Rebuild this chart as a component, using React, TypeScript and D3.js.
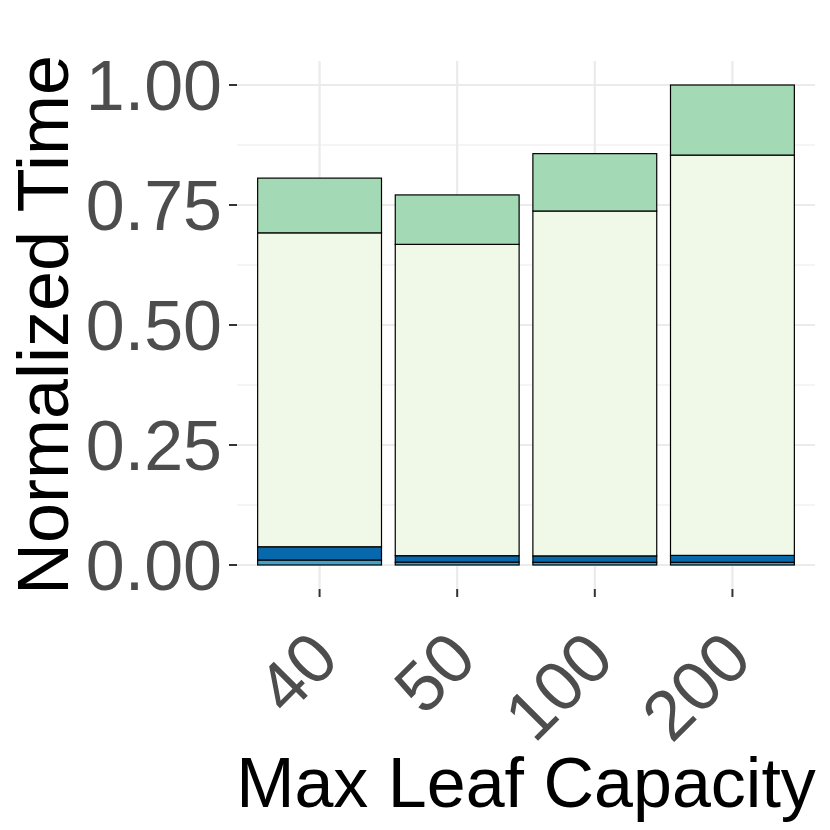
import React from "react";
import * as d3 from "d3";

const categories = ["40", "50", "100", "200"];
const seriesKeys = ["s1", "s2", "s3", "s4"];
const s1 = [0.0104, 0.006, 0.0056, 0.0056];
const s2 = [0.0276, 0.0134, 0.0134, 0.0144];
const s3 = [0.654, 0.6486, 0.7185, 0.834];
const s4 = [0.114, 0.103, 0.1195, 0.146];
const colors = ["#43a2ca", "#0868ac", "#f0f9e8", "#a3d9b4"];
const yTicks = [0, 0.25, 0.5, 0.75, 1.0];
const yMinor = [0.125, 0.375, 0.625, 0.875];

export default function App() {
  const W = 830, H = 830;
  const left = 237, right = 815, top = 61, bottom = 589;
  const table = categories.map((c, i) => ({ cat: c, s1: s1[i], s2: s2[i], s3: s3[i], s4: s4[i] }));
  const stacked = d3.stack<any>().keys(seriesKeys)(table);
  const x = d3.scaleBand<string>().domain(categories).range([left, right]).paddingInner(0.1).paddingOuter(0.15);
  const y = d3.scaleLinear().domain([-0.05, 1.05]).range([bottom, top]);
  const bw = x.bandwidth();
  const cx = (c: string) => (x(c) as number) + bw / 2;
  const font = "'Liberation Sans', Arial, Helvetica, sans-serif";
  return (
    <svg width={W} height={H} style={{ position: "absolute", left: 0, top: 0 }}>
      <rect x={0} y={0} width={W} height={H} fill="#ffffff" />
      {yMinor.map((t) => (
        <line key={"m" + t} x1={left} x2={right} y1={y(t)} y2={y(t)} stroke="#ebebeb" strokeWidth={1.1} />
      ))}
      {yTicks.map((t) => (
        <line key={"g" + t} x1={left} x2={right} y1={y(t)} y2={y(t)} stroke="#ebebeb" strokeWidth={2.2} />
      ))}
      {categories.map((c) => (
        <line key={"v" + c} x1={cx(c)} x2={cx(c)} y1={top} y2={bottom} stroke="#ebebeb" strokeWidth={2.2} />
      ))}
      {stacked.map((layer, li) =>
        layer.map((d, i) => (
          <rect
            key={li + "-" + i}
            x={x(categories[i])}
            width={bw}
            y={y(d[1])}
            height={y(d[0]) - y(d[1])}
            fill={colors[li]}
            stroke="#000"
            strokeWidth={1.2}
          />
        ))
      )}
      {yTicks.map((t) => (
        <g key={"yt" + t}>
          <line x1={229} x2={237} y1={y(t)} y2={y(t)} stroke="#333" strokeWidth={2} />
          <text x={222} y={y(t) + 25} textAnchor="end" fontFamily={font} fontSize={70} fill="#4d4d4d">
            {t.toFixed(2)}
          </text>
        </g>
      ))}
      {categories.map((c) => (
        <g key={"xt" + c}>
          <line x1={cx(c)} x2={cx(c)} y1={bottom} y2={bottom + 8} stroke="#333" strokeWidth={2} />
          <text
            transform={`translate(${cx(c) + 22},${662}) rotate(-45)`}
            textAnchor="end"
            fontFamily={font}
            fontSize={70}
            fill="#4d4d4d"
          >
            {c}
          </text>
        </g>
      ))}
      <text x={(left + right) / 2} y={807} textAnchor="middle" fontFamily={font} fontSize={70} fill="#000">
        Max Leaf Capacity
      </text>
      <text
        transform={`translate(68,${(top + bottom) / 2}) rotate(-90)`}
        textAnchor="middle"
        fontFamily={font}
        fontSize={72}
        fill="#000"
      >
        Normalized Time
      </text>
    </svg>
  );
}
